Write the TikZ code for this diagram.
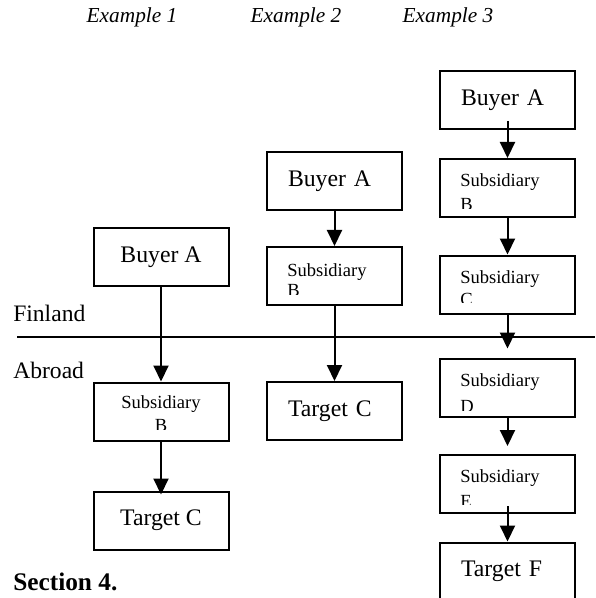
\documentclass[tikz,border=0pt]{standalone}
\usepackage{fontspec}
\setmainfont{Liberation Serif}
\usetikzlibrary{arrows.meta, calc}

\tikzset{
  box/.style={draw, line width=1.5pt, minimum width=101.25pt, minimum height=43.5pt, inner sep=0pt, font=\fontsize{17.8}{21}\selectfont},
  boxl/.style={box, text width=69.75pt, inner xsep=15.75pt, align=left},
  subtext/.style={inner sep=0pt, font=\fontsize{13.9}{16.5}\selectfont},
  arr/.style={-{Triangle[width=11.25pt,length=12pt]}, line width=1.5pt},
  lbl/.style={anchor=base west, inner sep=0pt, font=\fontsize{17.7}{21}\selectfont},
  extitle/.style={anchor=base, inner sep=0pt, font=\fontsize{16}{19}\selectfont\itshape}
}

\begin{document}
\begin{tikzpicture}[x=0.75pt,y=0.75pt,yscale=-1,xscale=1]
\path[use as bounding box, clip] (0,0) rectangle (595,598);

% Text Node
\node[extitle] (ex1) at (132,23) {Example 1};
\node[extitle] (ex2) at (296,23) {Example 2};
\node[extitle] (ex3) at (448,23) {Example 3};
\node[lbl] (finland) at (13,321) {Finland};
\node[lbl] (abroad) at (13,378) {Abroad};
\node[lbl, font=\fontsize{19}{22}\selectfont\bfseries] (section) at (13,590) {Section 4.};

%Straight Lines
\coordinate (borderW) at (17,337);
\coordinate (borderE) at (595,337);
\draw[line width=1.5pt] (borderW) -- (borderE);

%Shape: Rectangle (Example 1)
\node[box] (buyerA1) at (161,257) {Buyer A};
\node[box] (subB1) at (161,411.5) {};
\begin{scope}
  \clip (subB1.north west) rectangle ($(subB1.south east)+(0,-12)$);
  \node[subtext, anchor=base] (subB1a) at ($(subB1.north)+(0,27)$) {Subsidiary};
  \node[subtext, anchor=base] (subB1b) at ($(subB1.north)+(0,50)$) {B};
\end{scope}
\node[box] (targetC1) at (161,520.5) {Target C};

%Shape: Rectangle (Example 2)
\node[boxl] (buyerA2) at (334.5,181) {Buyer A};
\node[box] (subB2) at (334.5,276) {};
\begin{scope}
  \clip (subB2.north west) rectangle ($(subB2.south east)+(0,-12)$);
  \node[subtext, anchor=base west] (subB2a) at ($(subB2.north west)+(21,30)$) {Subsidiary};
  \node[subtext, anchor=base west] (subB2b) at ($(subB2.north west)+(21,50)$) {B};
\end{scope}
\node[boxl] (targetC2) at (334.5,411) {Target C};

%Shape: Rectangle (Example 3)
\node[boxl] (buyerA3) at (507.5,100) {Buyer A};
\node[box] (subB3) at (507.5,188) {};
\begin{scope}
  \clip (subB3.north west) rectangle ($(subB3.south east)+(0,-9)$);
  \node[subtext, anchor=base west] (subB3a) at ($(subB3.north west)+(21,29)$) {Subsidiary};
  \node[subtext, anchor=base west] (subB3b) at ($(subB3.north west)+(21,53)$) {B};
\end{scope}
\node[box] (subC3) at (507.5,284.5) {};
\begin{scope}
  \clip (subC3.north west) rectangle ($(subC3.south east)+(0,-12)$);
  \node[subtext, anchor=base west] (subC3a) at ($(subC3.north west)+(21,29)$) {Subsidiary};
  \node[subtext, anchor=base west] (subC3b) at ($(subC3.north west)+(21,51)$) {C};
\end{scope}
\node[box] (subD3) at (507.5,387.5) {};
\begin{scope}
  \clip (subD3.north west) rectangle ($(subD3.south east)+(0,-7)$);
  \node[subtext, anchor=base west] (subD3a) at ($(subD3.north west)+(21,29)$) {Subsidiary};
  \node[subtext, anchor=base west] (subD3b) at ($(subD3.north west)+(21,55)$) {D};
\end{scope}
\node[box] (subE3) at (507.5,484) {};
\begin{scope}
  \clip (subE3.north west) rectangle ($(subE3.south east)+(0,-10)$);
  \node[subtext, anchor=base west] (subE3a) at ($(subE3.north west)+(21,28)$) {Subsidiary};
  \node[subtext, anchor=base west] (subE3b) at ($(subE3.north west)+(21,53)$) {E};
\end{scope}
\node[boxl] (targetF3) at (507.5,571.5) {Target F};

%Straight Lines (arrows)
\draw[arr] (buyerA1.south) -- (subB1.north);
\draw[arr, shorten >=-3pt] (subB1.south) -- (targetC1.north);
\draw[arr] (buyerA2.south) -- (subB2.north);
\draw[arr] (subB2.south) -- (targetC2.north);
\draw[arr, shorten <=-6.75pt] (buyerA3.south) -- (subB3.north);
\draw[arr] (subB3.south) -- (subC3.north);
\draw[arr, shorten >=6.75pt] (subC3.south) -- (subD3.north);
\draw[arr, shorten >=6pt] (subD3.south) -- (subE3.north);
\draw[arr, shorten <=-6pt] (subE3.south) -- (targetF3.north);

\end{tikzpicture}
\end{document}
